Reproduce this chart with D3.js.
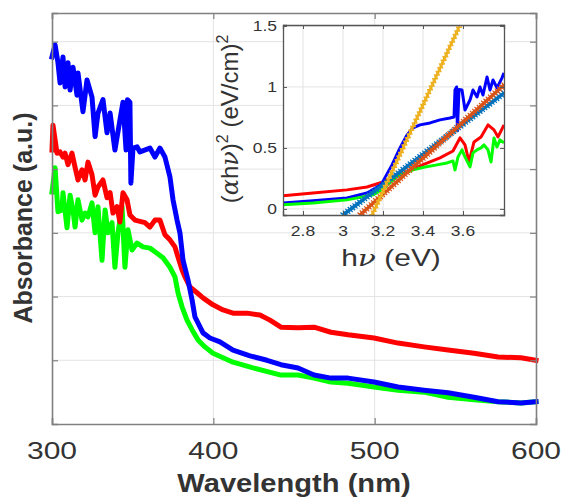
<!DOCTYPE html>
<html><head><meta charset="utf-8">
<script src="https://cdn.jsdelivr.net/npm/d3@7"></script>
<style>body{margin:0;background:#fff}svg{display:block;font-family:"Liberation Sans",Arial,Helvetica,sans-serif}</style>
</head><body><svg id="c" width="562" height="499"></svg>
<script>
// ---------- main chart data ----------
const wlTicks = [300, 400, 500, 600];
const absGrid = [0.1, 0.2, 0.3, 0.4, 0.5, 0.6];
const blueWl = [300,301.9,303.7,305,306.8,308.1,309.9,311.2,313,315.5,316.1,319.2,321.7,324.8,326.7,328.5,331.6,334.1,336,339,342.1,344,345.9,346.8,348.3,348.9,350.2,352.7,354.5,360.7,363.8,366.9,370,373.1,375,377.5,379.3,381.2,384.3,386.8,388.6,393.6,397.9,404.1,412.2,422.7,433.3,441.9,452.5,462.4,472.9,483.5,499.6,514.5,530.6,545.5,561.6,576.5,590.7,600];
const blueAbs = [0.576,0.595,0.567,0.535,0.576,0.529,0.567,0.524,0.560,0.516,0.551,0.490,0.540,0.513,0.451,0.488,0.509,0.457,0.488,0.430,0.477,0.505,0.430,0.509,0.505,0.378,0.433,0.435,0.427,0.433,0.419,0.433,0.419,0.388,0.352,0.320,0.300,0.257,0.226,0.195,0.168,0.143,0.135,0.129,0.116,0.107,0.100,0.093,0.088,0.077,0.072,0.072,0.066,0.058,0.053,0.049,0.042,0.035,0.033,0.035];
const redWl = [300,300.6,303.1,305,306.8,308.1,309.9,312.4,314.3,316.1,318.6,320.5,322.3,324.8,326.7,328.5,331.6,334.1,336,337.8,340.3,342.1,344,346.5,348.3,351.4,357.6,360.7,363.8,366.9,370,373.1,376.2,378.1,380.6,382.4,385.5,389.9,393.6,399.8,406,412.2,420.9,428.9,435.1,441.9,452.5,462.4,472.9,483.5,499.6,514.5,530.6,545.5,561.6,576.5,590.7,600];
const redAbs = [0.430,0.469,0.425,0.427,0.419,0.425,0.407,0.425,0.403,0.383,0.399,0.383,0.411,0.391,0.359,0.372,0.383,0.355,0.363,0.331,0.341,0.317,0.363,0.352,0.328,0.320,0.316,0.309,0.320,0.320,0.297,0.289,0.278,0.262,0.242,0.231,0.215,0.206,0.198,0.187,0.179,0.174,0.174,0.171,0.163,0.152,0.151,0.152,0.144,0.140,0.135,0.127,0.121,0.116,0.111,0.105,0.104,0.100];
const greenWl = [300,301.9,303.7,306.2,306.8,309.3,311.2,313,314.3,316.1,318.6,320.5,322.3,324.8,326.7,328.5,331,332.9,334.7,337.2,339,340.9,343.4,345.2,347.1,349.6,352.7,356.4,360.7,365.1,368.8,373.1,376.2,378.1,380.6,383.7,386.8,390.5,394.8,399.8,406,412.2,424.6,441.3,452.5,462.4,472.9,483.5,499.6,514.5,530.6,545.5,561.6,576.5,590.7,600];
const greenAbs = [0.364,0.402,0.333,0.336,0.363,0.308,0.359,0.336,0.309,0.352,0.320,0.331,0.325,0.347,0.300,0.341,0.257,0.336,0.300,0.316,0.246,0.300,0.341,0.246,0.305,0.273,0.284,0.278,0.276,0.268,0.261,0.246,0.231,0.206,0.184,0.163,0.148,0.132,0.121,0.111,0.104,0.097,0.088,0.077,0.077,0.072,0.066,0.064,0.058,0.053,0.050,0.042,0.038,0.035,0.033,0.035];

// ---------- inset (Tauc plot) data ----------
const evTicks = [2.8, 3, 3.2, 3.4, 3.6];
const evTickLabels = ["2.8", "3", "3.2", "3.4", "3.6"];
const taucTicks = [0, 0.5, 1, 1.5];
const taucTickLabels = ["0", "0.5", "1", "1.5"];
const insRedE = [2.70,2.85,3.02,3.12,3.20,3.285,3.385,3.485,3.55,3.585,3.61,3.63,3.655,3.69,3.725,3.755,3.775,3.805];
const insRedY = [0.107,0.131,0.156,0.180,0.221,0.279,0.352,0.418,0.475,0.582,0.525,0.385,0.549,0.590,0.689,0.648,0.590,0.689];
const insBlueE = [2.70,2.85,3.02,3.12,3.19,3.245,3.285,3.32,3.35,3.385,3.435,3.485,3.535,3.555,3.56,3.568,3.572,3.58,3.595,3.61,3.635,3.65,3.67,3.685,3.70,3.72,3.735,3.75,3.77,3.795,3.805];
const insBlueY = [0.049,0.066,0.090,0.131,0.197,0.361,0.500,0.607,0.664,0.689,0.705,0.730,0.746,0.754,0.975,1.0,0.64,0.98,0.975,0.811,0.893,0.975,0.918,1.0,0.934,1.082,0.975,1.057,0.992,1.074,1.115];
const insGreenE = [2.70,2.85,3.02,3.15,3.20,3.275,3.35,3.41,3.47,3.52,3.55,3.56,3.575,3.595,3.61,3.635,3.65,3.67,3.69,3.705,3.725,3.74,3.755,3.77,3.785,3.805];
const insGreenY = [0.033,0.049,0.074,0.115,0.164,0.270,0.320,0.344,0.361,0.377,0.393,0.320,0.426,0.484,0.426,0.344,0.459,0.484,0.5,0.525,0.484,0.385,0.582,0.508,0.566,0.541];
// linear fits (end points)
const fitBlueE = [3.0, 3.805],   fitBlueY = [-0.05, 0.95];
const fitOrangeE = [3.085, 3.805], fitOrangeY = [-0.05, 1.016];
const fitYellowE = [3.145, 3.58],  fitYellowY = [-0.05, 1.49];

// ---------- drawing ----------
const svg = d3.select("#c");
const M = {l: 52, r: 536, t: 13, b: 424};
const x = d3.scaleLinear().domain([300, 600]).range([M.l, M.r]);
const y = d3.scaleLinear().domain([0, 0.645]).range([M.b, M.t]);
const axisCol = "#808080", gridCol = "#e3e3e3", txtCol = "#333";

function sText(g, tx, ty, str, size, sx, anchor, weight) {
  return g.append("g").attr("transform", `translate(${tx},${ty}) scale(${sx},1)`)
    .append("text").attr("text-anchor", anchor || "middle").attr("font-size", size)
    .attr("font-weight", weight || "normal").attr("fill", txtCol).text(str);
}

// grid
const gMain = svg.append("g");
gMain.selectAll(".vg").data(wlTicks.slice(1, -1)).join("line")
  .attr("x1", d => x(d)).attr("x2", d => x(d)).attr("y1", M.t).attr("y2", M.b)
  .attr("stroke", gridCol).attr("stroke-width", 1);
gMain.selectAll(".hg").data(absGrid).join("line")
  .attr("y1", d => y(d)).attr("y2", d => y(d)).attr("x1", M.l).attr("x2", M.r)
  .attr("stroke", gridCol).attr("stroke-width", 1);

// curves
const line = d3.line().x(d => x(d[0])).y(d => y(d[1]));
const series = [[greenWl, greenAbs, "#00ff00"], [redWl, redAbs, "#ff0000"], [blueWl, blueAbs, "#0000ff"]];
series.forEach(([wx, wy, c]) => {
  gMain.append("path").datum(d3.zip(wx, wy)).attr("d", line)
    .attr("fill", "none").attr("stroke", c).attr("stroke-width", 5)
    .attr("stroke-linejoin", "round").attr("stroke-linecap", "square");
});

// axes box + ticks
const axB = d3.axisBottom(x).tickValues(wlTicks).tickSize(-6).tickFormat("");
const axT = d3.axisTop(x).tickValues(wlTicks).tickSize(-6).tickFormat("");
const axL = d3.axisLeft(y).tickValues(absGrid).tickSize(-6).tickFormat("");
const axR = d3.axisRight(y).tickValues(absGrid).tickSize(-6).tickFormat("");
[[axB, `translate(0,${M.b})`], [axT, `translate(0,${M.t})`], [axL, `translate(${M.l},0)`], [axR, `translate(${M.r},0)`]]
  .forEach(([a, t]) => {
    const g = svg.append("g").attr("transform", t).call(a);
    g.select(".domain").attr("stroke", axisCol).attr("stroke-width", 1.6);
    g.selectAll(".tick line").attr("stroke", axisCol).attr("stroke-width", 1.2);
  });

// main tick labels
wlTicks.forEach(v => sText(svg, x(v), 459, String(v), 24, 1.25));
sText(svg, 294, 492, "Wavelength (nm)", 26, 1.12, "middle", "bold");
svg.append("text").attr("transform", "translate(32,218) rotate(-90)")
  .attr("text-anchor", "middle").attr("font-size", 25).attr("font-weight", "bold")
  .attr("fill", txtCol).text("Absorbance (a.u.)");

// ---------- inset ----------
const I = {l: 283, r: 504, t: 25, b: 215};
const xi = d3.scaleLinear().domain([2.7, 3.805]).range([I.l, I.r]);
const yi = d3.scaleLinear().domain([-0.05, 1.508]).range([I.b, I.t]);
const gIn = svg.append("g");
gIn.append("rect").attr("x", I.l).attr("y", I.t).attr("width", I.r - I.l).attr("height", I.b - I.t).attr("fill", "#fff");
svg.append("clipPath").attr("id", "ic").append("rect").attr("x", I.l).attr("y", I.t).attr("width", I.r - I.l).attr("height", I.b - I.t);
gIn.selectAll(".ivg").data(evTicks).join("line")
  .attr("x1", d => xi(d)).attr("x2", d => xi(d)).attr("y1", I.t).attr("y2", I.b)
  .attr("stroke", gridCol);
gIn.selectAll(".ihg").data(taucTicks).join("line")
  .attr("y1", d => yi(d)).attr("y2", d => yi(d)).attr("x1", I.l).attr("x2", I.r)
  .attr("stroke", gridCol);

const gc = gIn.append("g").attr("clip-path", "url(#ic)");
const li = d3.line().x(d => xi(d[0])).y(d => yi(d[1]));
[[insRedE, insRedY, "#ff0000"], [insBlueE, insBlueY, "#0000ff"], [insGreenE, insGreenY, "#00ff00"]]
  .forEach(([ex, ey, c]) => {
    gc.append("path").datum(d3.zip(ex, ey)).attr("d", li).attr("fill", "none")
      .attr("stroke", c).attr("stroke-width", 3).attr("stroke-linejoin", "round");
  });

function fitLine(ex, ey, c, w, marker, msize, step, mw) {
  const x0 = xi(ex[0]), y0 = yi(ey[0]), x1 = xi(ex[1]), y1 = yi(ey[1]);
  gc.append("line").attr("x1", x0).attr("y1", y0).attr("x2", x1).attr("y2", y1)
    .attr("stroke", c).attr("stroke-width", w);
  const len = Math.hypot(x1 - x0, y1 - y0);
  const n = Math.floor(len / step);
  const ix = d3.interpolateNumber(x0, x1), iy = d3.interpolateNumber(y0, y1);
  const pts = d3.range(n + 1).map(i => [ix(i / n), iy(i / n)]);
  const s = msize / 2;
  const path = pts.map(([px, py]) => marker === "x"
    ? `M${px - s},${py - s}L${px + s},${py + s}M${px - s},${py + s}L${px + s},${py - s}`
    : `M${px - s},${py}L${px + s},${py}M${px},${py - s}L${px},${py + s}`).join("");
  gc.append("path").attr("d", path).attr("stroke", c).attr("stroke-width", mw).attr("fill", "none");
}
fitLine(fitBlueE, fitBlueY, "#0072BD", 3.5, "x", 5, 3, 1.2);
fitLine(fitOrangeE, fitOrangeY, "#D95319", 3.5, "x", 5, 3, 1.2);
fitLine(fitYellowE, fitYellowY, "#EDB120", 1.8, "+", 6, 4, 1.5);

// inset axes
const iaB = d3.axisBottom(xi).tickValues(evTicks).tickSize(-4).tickFormat("");
const iaT = d3.axisTop(xi).tickValues(evTicks).tickSize(-4).tickFormat("");
const iaL = d3.axisLeft(yi).tickValues(taucTicks).tickSize(-4).tickFormat("");
const iaR = d3.axisRight(yi).tickValues(taucTicks).tickSize(-4).tickFormat("");
[[iaB, `translate(0,${I.b})`], [iaT, `translate(0,${I.t})`], [iaL, `translate(${I.l},0)`], [iaR, `translate(${I.r},0)`]]
  .forEach(([a, t]) => {
    const g = svg.append("g").attr("transform", t).call(a);
    g.select(".domain").attr("stroke", "#555").attr("stroke-width", 1.3);
    g.selectAll(".tick line").attr("stroke", "#555");
  });
evTicks.forEach((v, i) => sText(svg, xi(v), 236, evTickLabels[i], 14, 1.25));
taucTicks.forEach((v, i) => sText(svg, 277, yi(v) + 5, taucTickLabels[i], 14, 1.25, "end"));

// inset labels
const xl = svg.append("g").attr("transform", "translate(391,266) scale(1.3,1)")
  .append("text").attr("text-anchor", "middle").attr("font-size", 23).attr("fill", txtCol);
xl.append("tspan").text("h");
xl.append("tspan").attr("font-style", "italic").attr("font-family", "DejaVu Serif, serif").text("ν");
xl.append("tspan").text(" (eV)");

const yl = svg.append("text").attr("transform", "translate(238,119) rotate(-90)")
  .attr("text-anchor", "middle").attr("font-size", 24).attr("fill", txtCol);
yl.append("tspan").text("(");
yl.append("tspan").attr("font-style", "italic").attr("font-family", "DejaVu Serif, serif").text("α");
yl.append("tspan").text("h");
yl.append("tspan").attr("font-style", "italic").attr("font-family", "DejaVu Serif, serif").text("ν");
yl.append("tspan").text(")");
yl.append("tspan").attr("font-size", 16).attr("dy", -10).text("2");
yl.append("tspan").attr("dy", 10).text(" (eV/cm)");
yl.append("tspan").attr("font-size", 16).attr("dy", -10).text("2");
</script></body></html>
